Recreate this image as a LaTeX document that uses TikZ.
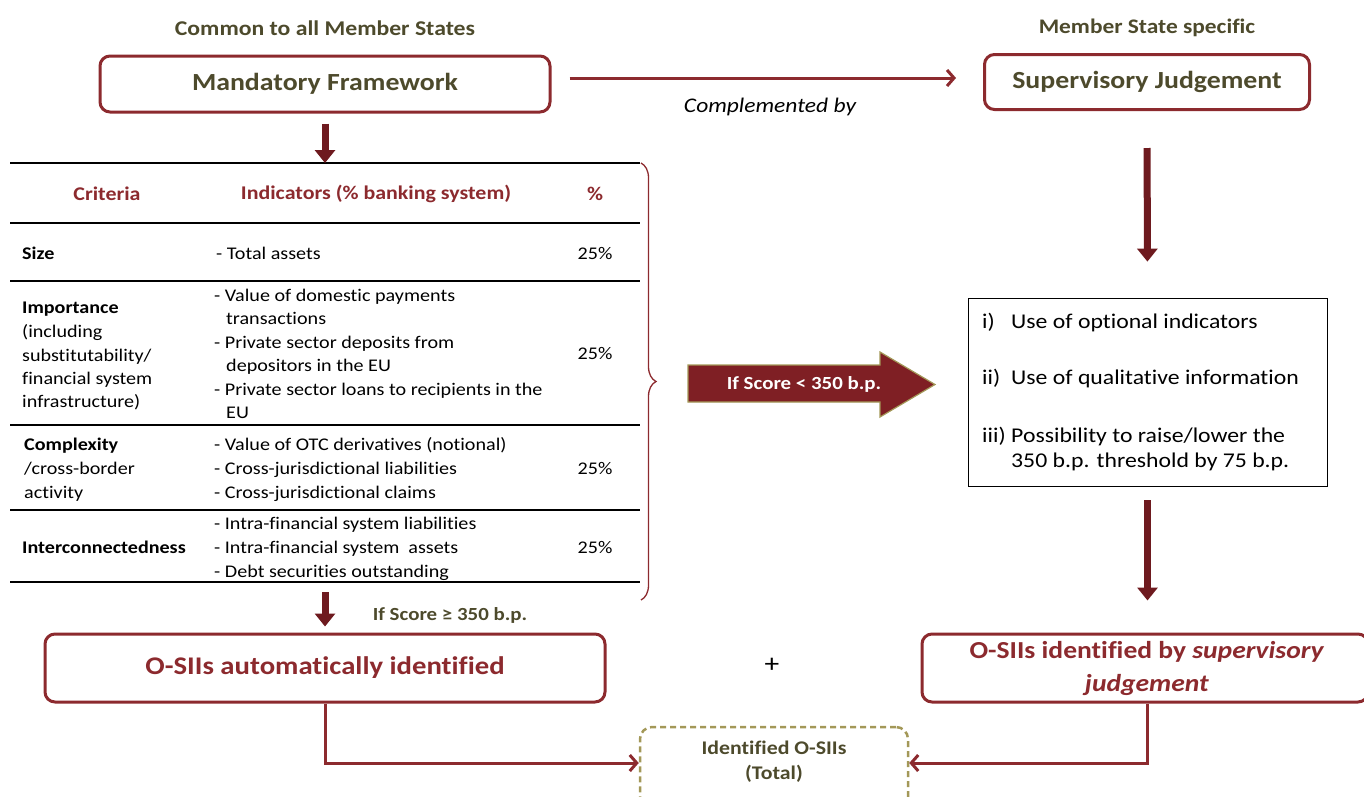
\documentclass[tikz,border=0pt]{standalone}
\usepackage{fontspec}
\setmainfont{Carlito}[FakeStretch=1.13,Ligatures=NoCommon]
\usetikzlibrary{arrows.meta,decorations.pathreplacing,calc}
\definecolor{dred}{HTML}{8C2A2E}
\definecolor{arr}{HTML}{6E1A1F}
\definecolor{olive}{HTML}{4D4A2C}
\definecolor{khaki}{HTML}{A39858}
\definecolor{bigarr}{HTML}{7F1F24}
\begin{document}
\begin{tikzpicture}[x=1pt,y=-1pt,
  box/.style={draw=dred,line width=3pt,rounded corners=10pt,fill=white,inner sep=0pt},
  bigdown/.style={draw=arr,line width=7pt,-{Triangle[width=20pt,length=13pt]}},
  conn/.style={draw=dred,line width=3pt,-{Straight Barb[length=7pt,width=16pt,line width=3pt]}},
  head/.style={font=\fontsize{21}{25}\selectfont\bfseries,text=olive,inner sep=0pt},
  bt/.style={font=\fontsize{24.6}{30}\selectfont\bfseries,text=olive},
  rt/.style={font=\fontsize{25.4}{30}\selectfont\bfseries,text=dred},
  th/.style={font=\fontsize{19.4}{23}\selectfont\bfseries,text=dred,inner sep=0pt},
  tt/.style={font=\fontsize{17.8}{20}\selectfont,text=black,inner sep=0pt,anchor=base west},
  tb/.style={tt,font=\fontsize{17.8}{20}\selectfont\bfseries},
  tp/.style={font=\fontsize{17.8}{20}\selectfont,text=black,inner sep=0pt},
  tline/.style={draw=black,line width=1.8pt},
  ot/.style={font=\fontsize{21}{24}\selectfont,text=black,inner sep=0pt,anchor=base west},
]
\useasboundingbox (0,0) rectangle (1364,796);
\clip (0,0) rectangle (1364,796);
% headings
\node[head] (h1) at (325,28) {Common to all Member States};
\node[head,font=\fontsize{20.7}{25}\selectfont\bfseries] (h2) at (1147,28) {Member State specific};
% top boxes
\node[box,minimum width=450pt,minimum height=56pt] (MF) at (325,84) {};
\node[bt] (MFt) at (MF.center) {Mandatory Framework};
\node[box,minimum width=325pt,minimum height=55pt] (SJ) at (1147,82) {};
\node[bt] (SJt) at (SJ.center) {Supervisory Judgement};
\coordinate (y78) at (0,78);
\draw[conn,shorten <=18pt,shorten >=27pt] (MF.east |- y78) -- (SJ.west |- y78);
\node[font=\fontsize{20.8}{23}\selectfont\itshape,inner sep=0pt] (comp) at (770,107) {Complemented by};
% table
\coordinate (t0) at (10,163);
\coordinate (t0r) at (640,163);
\coordinate (t1) at (10,223);
\coordinate (t1r) at (640,223);
\coordinate (t2) at (10,281);
\coordinate (t2r) at (640,281);
\coordinate (t3) at (10,425);
\coordinate (t3r) at (640,425);
\coordinate (t4) at (10,510);
\coordinate (t4r) at (640,510);
\coordinate (t5) at (10,582);
\coordinate (t5r) at (640,582);
\draw[tline] (t0) -- (t0r);
\draw[tline] (t1) -- (t1r);
\draw[tline] (t2) -- (t2r);
\draw[tline] (t3) -- (t3r);
\draw[tline] (t4) -- (t4r);
\draw[tline] (t5) -- (t5r);
\draw[bigdown,shorten <=10pt] (MF.south) -- (MF.south |- t0);
\node[th] (c1) at (107,194) {Criteria};
\node[th] (c2) at (376,194) {Indicators (\% banking system)};
\node[th] (c3) at (595,194) {\%};
% size
\node[tb] (s1) at (22,259) {Size};
\node[tt] (s2) at (216,259) {- Total assets};
\node[tp] (s3) at (595,253) {25\%};
% importance
\node[tb] (i1) at (22,313) {Importance};
\node[tt] (i2) at (22,337) {(including};
\node[tt] (i3) at (22,361) {substitutability/};
\node[tt] (i4) at (22,384) {financial system};
\node[tt] (i5) at (22,407) {infrastructure)};
\node[tt] (j1) at (214,301) {- Value of domestic payments};
\node[tt] (j2) at (226,324) {transactions};
\node[tt] (j3) at (214,348) {- Private sector deposits from};
\node[tt] (j4) at (226,371) {depositors in the EU};
\node[tt] (j5) at (214,395) {- Private sector loans to recipients in the};
\node[tt] (j6) at (226,418) {EU};
\node[tp] (i6) at (595,353) {25\%};
% complexity
\node[tb] (k1) at (24,450) {Complexity};
\node[tt] (k2) at (24,474) {/cross-border};
\node[tt] (k3) at (24,498) {activity};
\node[tt] (l1) at (214,450) {- Value of OTC derivatives (notional)};
\node[tt] (l2) at (214,474) {- Cross-jurisdictional liabilities};
\node[tt] (l3) at (214,498) {- Cross-jurisdictional claims};
\node[tp] (k4) at (595,468) {25\%};
% interconnectedness
\node[tb] (m1) at (22,553) {Interconnectedness};
\node[tt] (n1) at (214,529) {- Intra-financial system liabilities};
\node[tt] (n2) at (214,553) {- Intra-financial system\ \ assets};
\node[tt] (n3) at (214,577) {- Debt securities outstanding};
\node[tp] (m2) at (595,547) {25\%};
% brace
\coordinate (b0) at (641,163);
\coordinate (b1) at (641,600);
\draw[dred,line width=1.3pt,decorate,decoration={brace,amplitude=15pt,aspect=0.5}] (b0) -- (b1);
% big arrow
\draw[fill=bigarr,draw=khaki,line width=1.2pt] (688,365) -- (880,365) -- (880,352) -- (935,384.5) -- (880,417) -- (880,402) -- (688,402) -- cycle;
\node[font=\fontsize{18.5}{21}\selectfont\bfseries,text=white,inner sep=0pt] (sc) at (804,384) {If Score < 350 b.p.};
% options box
\node[draw=black,line width=0.8pt,minimum width=359pt,minimum height=188pt,inner sep=0pt] (opt) at (1147.5,392) {};
\node[ot] (o1) at (982,328) {i)};
\node[ot] (o1t) at (1011,328) {Use of optional indicators};
\node[ot] (o2) at (982,384) {ii)};
\node[ot] (o2t) at (1011,384) {Use of qualitative information};
\node[ot] (o3) at (982,442) {iii)};
\node[ot] (o3t) at (1011,442) {Possibility to raise/lower the};
\node[ot] (o4t) at (1011,467) {350 b.p. threshold by 75 b.p.};
\draw[bigdown,shorten <=37pt,shorten >=36pt] (SJ.south) -- (opt.north);
% bottom boxes
\node[box,minimum width=560pt,minimum height=68pt] (auto) at (325,668) {};
\node[rt] (autot) at (auto.center) {O-SIIs automatically identified};
\node[box,minimum width=446pt,minimum height=68pt] (sup) at (1145,668) {};
\node[rt,align=center,font=\fontsize{24.4}{33}\selectfont\bfseries] (supt) at (1147,668) {O-SIIs identified by \textit{supervisory}\\\textit{judgement}};
\draw[bigdown,shorten <=14pt,shorten >=32pt] (opt.south) -- (opt.south |- sup.north);
\draw[bigdown,shorten <=10pt,shorten >=6pt] (t5 -| auto.north) -- (auto.north);
\node[font=\fontsize{18.5}{20}\selectfont\bfseries,text=olive,inner sep=0pt] (ge) at (450,615) {If Score ≥ 350 b.p.};
\node[font=\fontsize{26}{28}\selectfont,inner sep=0pt] (plus) at (772,665) {+};
% total
\node[draw=khaki,line width=2.5pt,dashed,dash pattern=on 6pt off 4pt,rounded corners=12pt,minimum width=268pt,minimum height=86pt,inner sep=0pt] (tot) at (774,770) {};
\node[font=\fontsize{19.3}{25}\selectfont\bfseries,text=olive,align=center,inner sep=0pt] (tott) at (774,762) {Identified O-SIIs\\(Total)};
\coordinate (y763) at (0,763);
\draw[conn] (auto.south) |- (tot.west |- y763);
\draw[conn] (sup.south -| supt) |- (tot.east |- y763);
\end{tikzpicture}
\end{document}
